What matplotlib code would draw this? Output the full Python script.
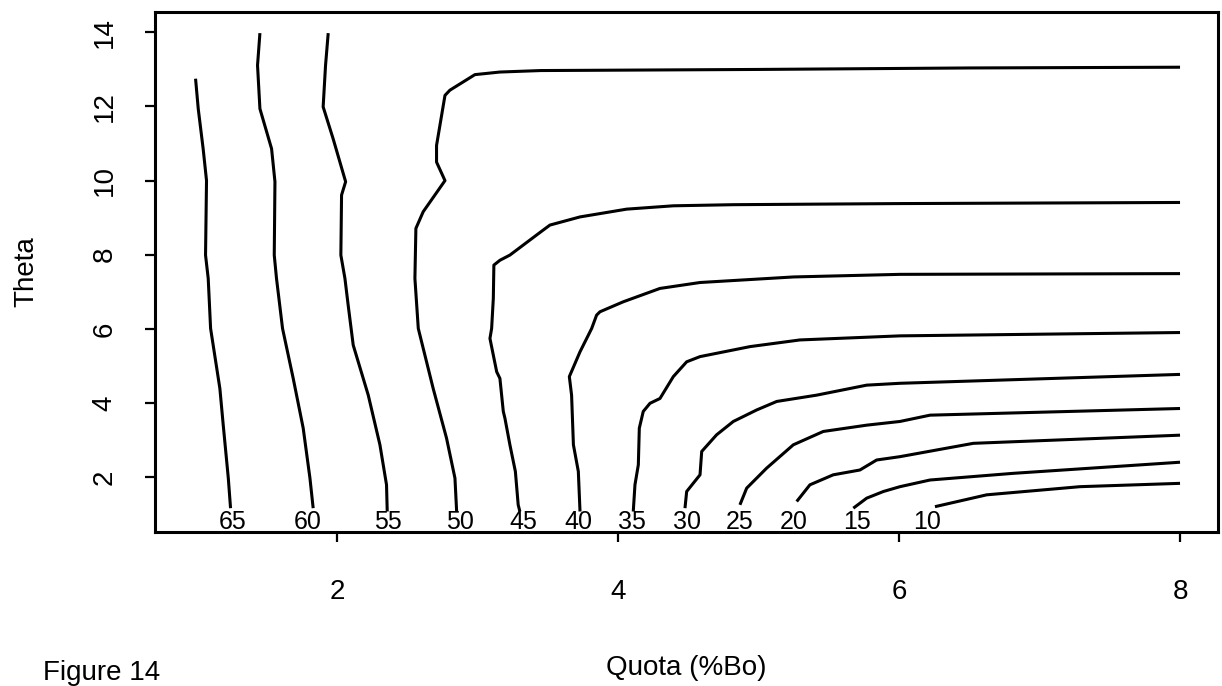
"""Contour plot of Theta against Quota (%Bo), Figure 14."""

import matplotlib

matplotlib.use("Agg")
import matplotlib.pyplot as plt
from matplotlib import transforms


# contour levels, left to right along the bottom axis
LEVELS = [65, 60, 55, 50, 45, 40, 35, 30, 25, 20, 15, 10]

# where each level label sits on the Quota axis
label_quota = [1.257, 1.795, 2.365, 2.875, 3.326, 3.718, 4.097, 4.489, 4.868, 5.248, 5.698, 6.197]

# contour paths (quota, theta), starting at the bottom
quota_65 = [1.243, 1.227, 1.191, 1.167, 1.101, 1.084, 1.065, 1.072, 1.048, 1.013, 0.994]
theta_65 = [1.16, 1.97, 3.40, 4.39, 6.01, 7.36, 7.99, 10.0, 10.86, 11.94, 12.75]

quota_60 = [1.831, 1.808, 1.760, 1.689, 1.613, 1.570, 1.554, 1.559, 1.535, 1.452, 1.435, 1.452]
theta_60 = [1.16, 1.97, 3.32, 4.66, 6.01, 7.36, 7.99, 9.97, 10.86, 11.94, 13.11, 13.98]

quota_55 = [2.358, 2.353, 2.306, 2.223, 2.116, 2.080, 2.057, 2.028, 2.033, 2.062, 1.973, 1.902, 1.919, 1.938]
theta_55 = [1.07, 1.79, 2.87, 4.21, 5.56, 6.64, 7.36, 7.99, 9.61, 9.97, 11.13, 11.99, 13.11, 13.98]

quota_50 = [2.852, 2.840, 2.780, 2.685, 2.579, 2.555, 2.562, 2.614, 2.769, 2.709, 2.709, 2.769, 2.804,
            2.982, 3.16, 3.45, 5.0, 6.5, 8.0]
theta_50 = [1.07, 1.97, 3.05, 4.39, 6.01, 7.36, 8.71, 9.16, 10.0, 10.5, 10.95, 12.30, 12.44,
            12.86, 12.93, 12.97, 13.0, 13.04, 13.06]

quota_45 = [3.302, 3.290, 3.270, 3.231, 3.196, 3.184, 3.160, 3.137, 3.089, 3.101, 3.113, 3.117, 3.160,
            3.231, 3.445, 3.516, 3.730, 4.062, 4.394, 4.821, 6.007, 8.0]
theta_45 = [1.07, 1.25, 2.15, 2.87, 3.58, 3.77, 4.66, 4.84, 5.74, 6.01, 6.82, 7.72, 7.85,
            7.99, 8.60, 8.80, 9.02, 9.23, 9.32, 9.35, 9.38, 9.41]

quota_40 = [3.730, 3.718, 3.683, 3.670, 3.654, 3.730, 3.813, 3.848, 3.872, 4.038, 4.299, 4.584, 5.25, 6.007, 8.0]
theta_40 = [1.07, 2.15, 2.87, 4.21, 4.71, 5.38, 6.01, 6.37, 6.46, 6.73, 7.09, 7.25, 7.40, 7.47, 7.49]

quota_35 = [4.109, 4.121, 4.145, 4.152, 4.180, 4.228, 4.299, 4.394, 4.489, 4.584, 4.940, 5.295, 6.007, 8.0]
theta_35 = [1.07, 1.79, 2.33, 3.32, 3.77, 3.99, 4.12, 4.71, 5.11, 5.25, 5.52, 5.70, 5.81, 5.90]

quota_30 = [4.477, 4.489, 4.584, 4.596, 4.702, 4.821, 4.987, 5.130, 5.414, 5.770, 6.007, 8.0]
theta_30 = [1.16, 1.61, 2.06, 2.69, 3.14, 3.50, 3.81, 4.04, 4.21, 4.48, 4.53, 4.77]

quota_25 = [4.868, 4.916, 5.058, 5.248, 5.461, 5.770, 6.007, 6.221, 8.0]
theta_25 = [1.25, 1.70, 2.24, 2.87, 3.23, 3.40, 3.50, 3.67, 3.85]

quota_20 = [5.272, 5.366, 5.532, 5.722, 5.841, 6.007, 6.529, 8.0]
theta_20 = [1.34, 1.79, 2.06, 2.19, 2.46, 2.55, 2.91, 3.13]

quota_15 = [5.675, 5.770, 5.889, 6.007, 6.221, 6.813, 8.0]
theta_15 = [1.16, 1.43, 1.61, 1.74, 1.92, 2.10, 2.40]

quota_10 = [6.256, 6.624, 7.288, 8.0]
theta_10 = [1.20, 1.52, 1.74, 1.83]

X_TICKS = [2, 4, 6, 8]
Y_TICKS = [2, 4, 6, 8, 10, 12, 14]


def contour_paths():
    return [
        (quota_65, theta_65), (quota_60, theta_60), (quota_55, theta_55),
        (quota_50, theta_50), (quota_45, theta_45), (quota_40, theta_40),
        (quota_35, theta_35), (quota_30, theta_30), (quota_25, theta_25),
        (quota_20, theta_20), (quota_15, theta_15), (quota_10, theta_10),
    ]


def plot_contours(output_path: str) -> None:
    plt.rcParams["font.family"] = ["Liberation Sans", "DejaVu Sans"]

    fig = plt.figure(figsize=(12.22, 6.86), dpi=100)
    fig.patch.set_facecolor("white")
    ax = fig.add_axes([0.1268, 0.2252, 0.8699, 0.7573])

    for xs, ys in contour_paths():
        ax.plot(xs, ys, color="black", lw=2.2, solid_capstyle="butt", solid_joinstyle="round")

    # level labels sit on the bottom axis line, under each contour end
    label_tf = transforms.blended_transform_factory(ax.transData, ax.transAxes)
    for level, x in zip(LEVELS, label_quota):
        ax.text(x, 0.004, str(level), transform=label_tf, ha="center", va="baseline",
                fontsize=18, color="black")

    ax.set_xlim(0.705, 8.27)
    ax.set_ylim(0.53, 14.55)
    ax.set_xticks(X_TICKS)
    ax.set_yticks(Y_TICKS)
    ax.tick_params(axis="both", direction="out", length=7, width=1.6, labelsize=20, colors="black")
    ax.tick_params(axis="x", pad=27)
    ax.tick_params(axis="y", pad=20, labelrotation=90)
    for label in ax.get_yticklabels():
        label.set_verticalalignment("center")
    for spine in ax.spines.values():
        spine.set_linewidth(2.2)
        spine.set_color("black")

    fig.text(686 / 1222, (686 - 675) / 686, "Quota (%Bo)", ha="center", va="baseline", fontsize=20)
    fig.text(26 / 1222, (686 - 272) / 686, "Theta", ha="center", va="center", rotation=90, fontsize=20)
    # caption sits right at the bottom edge of the page
    fig.text(43 / 1222, (686 - 680) / 686, "Figure 14", ha="left", va="baseline", fontsize=20)

    fig.savefig(output_path, dpi=100)
    plt.close(fig)


def main() -> None:
    plot_contours("out.png")


if __name__ == "__main__":
    main()
